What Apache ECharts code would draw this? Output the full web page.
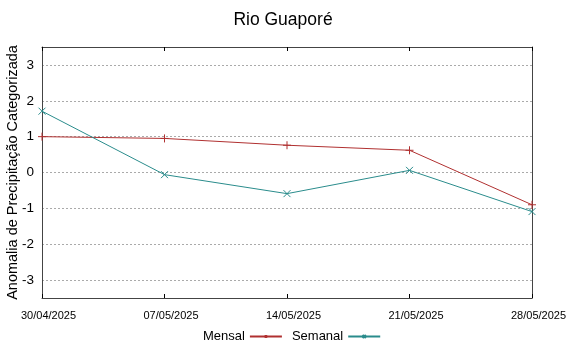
<!DOCTYPE html>
<html>
<head>
<meta charset="utf-8">
<script src="https://cdn.jsdelivr.net/npm/echarts@6/dist/echarts.min.js"></script>
<style>
  html, body { margin: 0; padding: 0; background: #fff; }
  #chart { width: 566px; height: 354px; }
</style>
</head>
<body>
<div id="chart"></div>
<script>
const dates = ['30/04/2025', '07/05/2025', '14/05/2025', '21/05/2025', '28/05/2025']
const mensal = [1.0, 0.95, 0.76, 0.62, -0.9]
const semanal = [1.71, -0.06, -0.59, 0.06, -1.09]
const yTicks = [-3, -2, -1, 0, 1, 2, 3]

const plusIcon = 'path://M0,5L10,5M5,0L5,10'
const crossIcon = 'path://M0,0L10,10M10,0L0,10'

const chart = echarts.init(document.getElementById('chart'))

const frame = { lineStyle: { color: '#444' } }
const tick = { inside: true, length: 4, lineStyle: { color: '#000' } }

chart.setOption({
  animation: false,
  textStyle: { fontFamily: 'Liberation Sans, Arial, sans-serif' },
  title: {
    text: 'Rio Guaporé',
    left: 'center',
    top: 6,
    textStyle: { fontSize: 17.5, fontWeight: 'normal', color: '#000' }
  },
  grid: {
    left: 42, right: 34, top: 47, bottom: 56,
    outerBoundsMode: 'none',
    containLabel: false,
    show: false
  },
  legend: {
    bottom: 6,
    left: 198,
    align: 'right',
    itemWidth: 32,
    itemHeight: 4,
    itemGap: 9,
    textStyle: { fontSize: 13, color: '#000' },
    data: ['Mensal', 'Semanal']
  },
  xAxis: [
    {
      type: 'category',
      data: dates,
      boundaryGap: false,
      axisLine: { onZero: false, ...frame },
      axisTick: tick,
      axisLabel: { fontSize: 11, color: '#000', margin: 12, padding: [0, 0, 0, 13], showMinLabel: true, showMaxLabel: true },
      splitLine: { show: false }
    },
    {
      type: 'category',
      data: dates,
      boundaryGap: false,
      position: 'top',
      axisLine: { onZero: false, ...frame },
      axisTick: tick,
      axisLabel: { show: false },
      splitLine: { show: false }
    }
  ],
  yAxis: [
    {
      type: 'value',
      min: -3.5,
      max: 3.5,
      interval: 1,
      name: 'Anomalia de Precipitação Categorizada',
      nameLocation: 'middle',
      nameGap: 22,
      nameMoveOverlap: false,
      nameTextStyle: { fontSize: 14.5, color: '#000' },
      axisLine: { show: true, ...frame },
      axisTick: { ...tick, customValues: yTicks },
      axisLabel: { fontSize: 13.5, color: '#000', margin: 8, customValues: yTicks },
      splitLine: { show: true, lineStyle: { color: '#aaa', type: [2, 2] } }
    },
    {
      type: 'value',
      min: -3.5,
      max: 3.5,
      interval: 1,
      position: 'right',
      axisLine: { show: true, ...frame },
      axisTick: { ...tick, customValues: yTicks },
      axisLabel: { show: false },
      splitLine: { show: false }
    }
  ],
  series: [
    {
      name: 'Mensal',
      type: 'line',
      data: mensal,
      symbol: plusIcon,
      symbolSize: 8,
      showAllSymbol: true,
      lineStyle: { color: '#b03030', width: 1 },
      itemStyle: { color: '#b03030', borderColor: '#b03030', borderWidth: 1 }
    },
    {
      name: 'Semanal',
      type: 'line',
      data: semanal,
      symbol: crossIcon,
      symbolSize: 7,
      showAllSymbol: true,
      lineStyle: { color: '#2a8c8c', width: 1 },
      itemStyle: { color: '#2a8c8c', borderColor: '#2a8c8c', borderWidth: 1 }
    }
  ]
})
</script>
</body>
</html>
